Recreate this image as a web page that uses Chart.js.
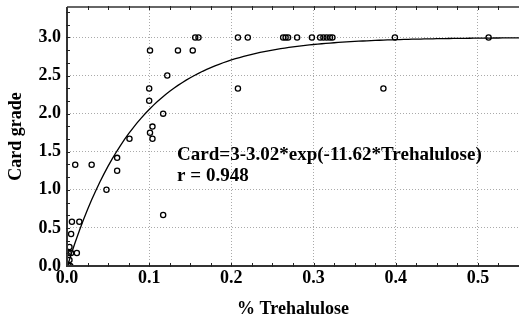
<!DOCTYPE html>
<html>
<head>
<meta charset="utf-8">
<script src="https://cdn.jsdelivr.net/npm/chart.js@4.4.1/dist/chart.umd.min.js"></script>
<style>
  html, body { margin: 0; padding: 0; background: #fff; }
  #wrap { width: 519px; height: 324px; position: relative; }
</style>
</head>
<body>
<div id="wrap"><canvas id="chart"></canvas></div>
<script>
// measured samples: % trehalulose vs card grade
const trehalulose = [
  0.002, 0.004, 0.003, 0.002, 0.005, 0.012, 0.003, 0.005, 0.006, 0.015,
  0.010, 0.030, 0.048, 0.061, 0.061, 0.076, 0.101, 0.104, 0.104, 0.117,
  0.100, 0.100, 0.122, 0.101, 0.135, 0.153, 0.117, 0.156, 0.160, 0.208,
  0.220, 0.263, 0.266, 0.269, 0.280, 0.298, 0.308, 0.312, 0.316, 0.320,
  0.323, 0.399, 0.513, 0.208, 0.385
];
const cardGrade = [
  0.00, 0.00, 0.08, 0.17, 0.17, 0.17, 0.25, 0.42, 0.58, 0.58,
  1.33, 1.33, 1.00, 1.42, 1.25, 1.67, 1.75, 1.67, 1.83, 2.00,
  2.17, 2.33, 2.50, 2.83, 2.83, 2.83, 0.67, 3.00, 3.00, 3.00,
  3.00, 3.00, 3.00, 3.00, 3.00, 3.00, 3.00, 3.00, 3.00, 3.00,
  3.00, 3.00, 3.00, 2.33, 2.33
];

// fitted model: Card = A - B*exp(-K*Trehalulose)
const fitA = 3;
const fitB = 3.02;
const fitK = 11.62;
const fitLabel = "Card=3-3.02*exp(-11.62*Trehalulose)";
const rLabel = "r = 0.948";

const xMin = 0, xMax = 0.55;
const yMin = 0, yMax = 3.4;

const points = trehalulose.map((x, i) => ({ x: x, y: cardGrade[i] }));

const curve = [];
for (let i = 0; i <= 110; i++) {
  const x = xMin + (xMax - xMin) * i / 110;
  curve.push({ x: x, y: fitA - fitB * Math.exp(-fitK * x) });
}

const serif = "'Liberation Serif', 'Times New Roman', serif";

// frame, minor ticks and the fit caption
const framePlugin = {
  id: "frame",
  afterDraw(chart) {
    const { ctx, chartArea: a, scales } = chart;
    const xs = scales.x, ys = scales.y;
    ctx.save();
    ctx.strokeStyle = "#333";
    ctx.lineWidth = 2;
    ctx.beginPath();
    ctx.moveTo(a.left, a.top);
    ctx.lineTo(a.left, a.bottom);
    ctx.lineTo(a.right, a.bottom);
    ctx.stroke();
    ctx.lineWidth = 1.5;
    ctx.beginPath();
    ctx.moveTo(a.left, a.top);
    ctx.lineTo(a.right, a.top);
    ctx.stroke();

    ctx.lineWidth = 1;
    ctx.strokeStyle = "#222";
    ctx.beginPath();
    for (let v = 0.025; v < xMax; v += 0.025) {
      const px = Math.round(xs.getPixelForValue(v)) + 0.5;
      ctx.moveTo(px, a.bottom - 3);
      ctx.lineTo(px, a.bottom + 1);
      ctx.moveTo(px, a.top - 1);
      ctx.lineTo(px, a.top + 3);
    }
    for (let v = 1 / 6; v < yMax; v += 1 / 6) {
      const py = Math.round(ys.getPixelForValue(v)) + 0.5;
      ctx.moveTo(a.left - 1, py);
      ctx.lineTo(a.left + 3, py);
    }
    ctx.stroke();

    ctx.fillStyle = "#000";
    ctx.font = "bold 19px " + serif;
    ctx.textBaseline = "alphabetic";
    const tx = xs.getPixelForValue(0.134);
    ctx.fillText(fitLabel, tx, ys.getPixelForValue(1.39));
    ctx.fillText(rLabel, tx, ys.getPixelForValue(1.12));
    ctx.restore();
  }
};

new Chart(document.getElementById("chart"), {
  type: "scatter",
  data: {
    datasets: [
      {
        label: "fit",
        data: curve,
        showLine: true,
        borderColor: "#000",
        borderWidth: 1.3,
        pointRadius: 0,
        fill: false,
        tension: 0,
        order: 2
      },
      {
        label: "samples",
        data: points,
        pointStyle: "circle",
        pointRadius: 2.6,
        pointBorderWidth: 1.3,
        pointBorderColor: "#000",
        pointBackgroundColor: "rgba(255,255,255,0)",
        order: 1
      }
    ]
  },
  options: {
    responsive: true,
    maintainAspectRatio: false,
    animation: false,
    layout: { autoPadding: false, padding: { top: 7, right: 0, left: 0, bottom: 0 } },
    plugins: {
      legend: { display: false },
      tooltip: { enabled: false }
    },
    scales: {
      x: {
        type: "linear",
        min: xMin,
        max: xMax,
        afterFit(scale) {
          scale.height = 58;
          scale.paddingLeft = 0;
          scale.paddingRight = 0;
        },
        ticks: {
          stepSize: 0.1,
          includeBounds: false,
          padding: 2,
          color: "#000",
          font: { family: serif, size: 18, weight: "bold" },
          callback: v => v.toFixed(1)
        },
        grid: { color: "#aaa", lineWidth: 1, drawTicks: false },
        border: { display: false, dash: [1, 2] },
        title: {
          display: true,
          text: "% Trehalulose",
          color: "#000",
          font: { family: serif, size: 18, weight: "bold" },
          padding: { top: 13 }
        }
      },
      y: {
        type: "linear",
        min: yMin,
        max: yMax,
        afterFit(scale) {
          scale.width = 67;
          scale.paddingTop = 0;
          scale.paddingBottom = 0;
        },
        ticks: {
          stepSize: 0.5,
          includeBounds: false,
          padding: 6,
          color: "#000",
          font: { family: serif, size: 18, weight: "bold" },
          callback: v => v.toFixed(1)
        },
        grid: { color: "#aaa", lineWidth: 1, drawTicks: false },
        border: { display: false, dash: [1, 2] },
        title: {
          display: true,
          text: "Card grade",
          color: "#000",
          font: { family: serif, size: 18, weight: "bold" },
          padding: { top: 6, bottom: 2 }
        }
      }
    }
  },
  plugins: [framePlugin]
});
</script>
</body>
</html>
